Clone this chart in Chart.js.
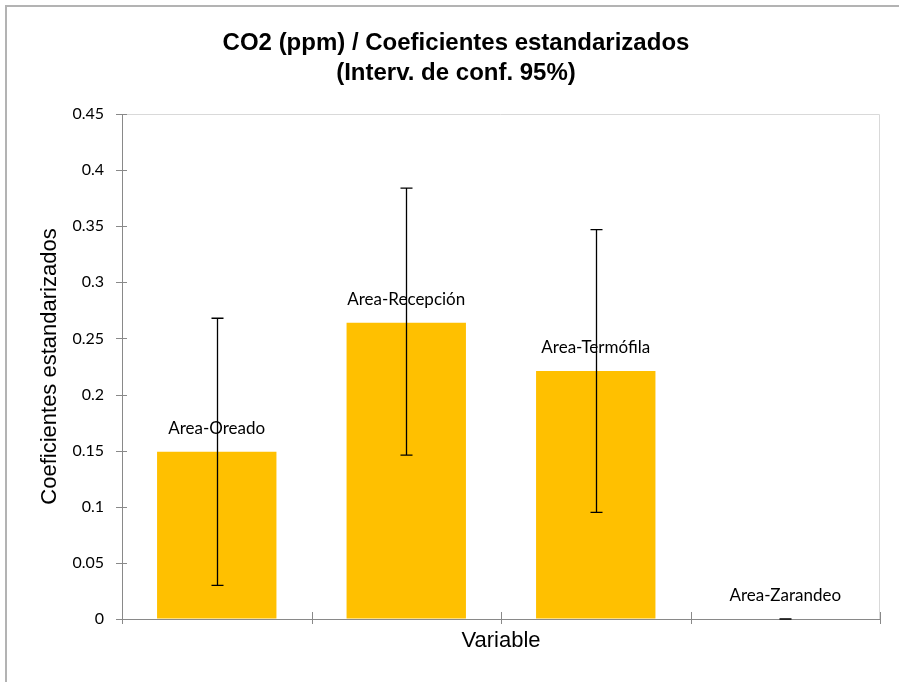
<!DOCTYPE html>
<html>
<head>
<meta charset="utf-8">
<script src="https://cdn.jsdelivr.net/npm/chart.js@4.4.1/dist/chart.umd.min.js"></script>
<style>
html,body{margin:0;padding:0;background:#fff;}
#wrap{position:relative;width:899px;height:682px;overflow:hidden;}
#frame{position:absolute;left:5px;top:5px;width:1000px;height:1000px;border-left:2px solid #b3b3b3;border-top:2px solid #b3b3b3;pointer-events:none;}
</style>
</head>
<body>
<div id="wrap">
<canvas id="chart" width="899" height="682"></canvas>
<div id="frame"></div>
</div>
<script>
// valores
const categories = ["Area-Oreado", "Area-Recepción", "Area-Termófila", "Area-Zarandeo"];
const coef = [0.149, 0.264, 0.221, 0];
const lower = [0.030, 0.146, 0.095, 0];
const upper = [0.268, 0.384, 0.347, 0];
const yTicks = [0, 0.05, 0.1, 0.15, 0.2, 0.25, 0.3, 0.35, 0.4, 0.45];

const axisGray = "#898989";

/* -------- extras: marco, ticks, barras de error, etiquetas -------- */

const extras = {
  id: "extras",
  beforeDatasetsDraw(chart){
    const {ctx, chartArea:a} = chart;
    ctx.save();
    ctx.strokeStyle = "#d9d9d9";
    ctx.lineWidth = 1;
    ctx.beginPath();
    ctx.moveTo(a.left, a.top + 0.5);
    ctx.lineTo(a.right - 0.5, a.top + 0.5);
    ctx.lineTo(a.right - 0.5, a.bottom);
    ctx.stroke();
    ctx.restore();
  },
  afterDatasetsDraw(chart){
    const {ctx, chartArea:a} = chart;
    const x = chart.scales.x, y = chart.scales.y;
    ctx.save();

    // ticks cruzados
    ctx.strokeStyle = axisGray;
    ctx.lineWidth = 1;
    ctx.beginPath();
    y.ticks.forEach((t, i) => {
      const py = Math.round(y.getPixelForTick(i)) + 0.5;
      ctx.moveTo(a.left - 6, py);
      ctx.lineTo(a.left + 5, py);
    });
    for(let i = 0; i <= categories.length; i++){
      const px = Math.round(x.getPixelForValue(i - 0.5)) + 0.5;
      ctx.moveTo(px, a.bottom - 7);
      ctx.lineTo(px, a.bottom + 5);
    }
    ctx.stroke();

    // barras de error
    const meta = chart.getDatasetMeta(0);
    ctx.strokeStyle = "#000";
    ctx.lineWidth = 1.3;
    meta.data.forEach((bar, i) => {
      const px = Math.round(bar.x) + 0.5;
      const yl = y.getPixelForValue(lower[i]);
      const yh = y.getPixelForValue(upper[i]);
      ctx.beginPath();
      ctx.moveTo(px, yl); ctx.lineTo(px, yh);
      ctx.moveTo(px - 6, yl); ctx.lineTo(px + 6, yl);
      ctx.moveTo(px - 6, yh); ctx.lineTo(px + 6, yh);
      ctx.stroke();
    });

    // etiquetas de categoria
    ctx.fillStyle = "#000";
    ctx.font = "17px Lato";
    ctx.textAlign = "center";
    ctx.textBaseline = "middle";
    meta.data.forEach((bar, i) => {
      ctx.fillText(categories[i], bar.x, bar.y - 23);
    });

    ctx.restore();
  }
};

new Chart(document.getElementById("chart"), {
  type: "bar",
  data: {
    labels: categories,
    datasets: [{
      label: "Coeficientes estandarizados",
      data: coef,
      backgroundColor: "#FFC000",
      borderWidth: 0,
      barPercentage: 0.63,
      categoryPercentage: 1
    }]
  },
  options: {
    responsive: false,
    animation: false,
    events: [],
    layout: {padding: {left: 32, right: 19, top: 0, bottom: 0}},
    plugins: {
      legend: {display: false},
      tooltip: {enabled: false},
      title: {
        display: true,
        text: ["CO2 (ppm) / Coeficientes estandarizados", "(Interv. de conf. 95%)"],
        color: "#000",
        font: {family: "Liberation Sans, Arial", size: 24, weight: "bold", lineHeight: 1.25},
        padding: {top: 28, bottom: 26}
      }
    },
    scales: {
      x: {
        offset: true,
        grid: {display: true, drawOnChartArea: false, drawTicks: false, offset: true},
        border: {display: true, color: axisGray},
        ticks: {display: false},
        title: {
          display: true,
          text: "Variable",
          color: "#000",
          font: {family: "Liberation Sans, Arial", size: 22},
          padding: {top: 0, bottom: 28}
        },
        afterFit(s){ s.height = 63; }
      },
      y: {
        min: 0,
        max: 0.45,
        afterBuildTicks(s){ s.ticks = yTicks.map(v => ({value: v})); },
        grid: {display: true, drawOnChartArea: false, drawTicks: false},
        border: {display: true, color: axisGray},
        ticks: {
          color: "#000",
          font: {family: "Lato", size: 16},
          padding: 18,
          callback: v => String(v)
        },
        title: {
          display: true,
          text: "Coeficientes estandarizados",
          color: "#000",
          font: {family: "Liberation Sans, Arial", size: 22},
          padding: {top: 5, bottom: 0}
        },
        afterFit(s){ s.width = 90; }
      }
    }
  },
  plugins: [extras]
});
</script>
</body>
</html>
